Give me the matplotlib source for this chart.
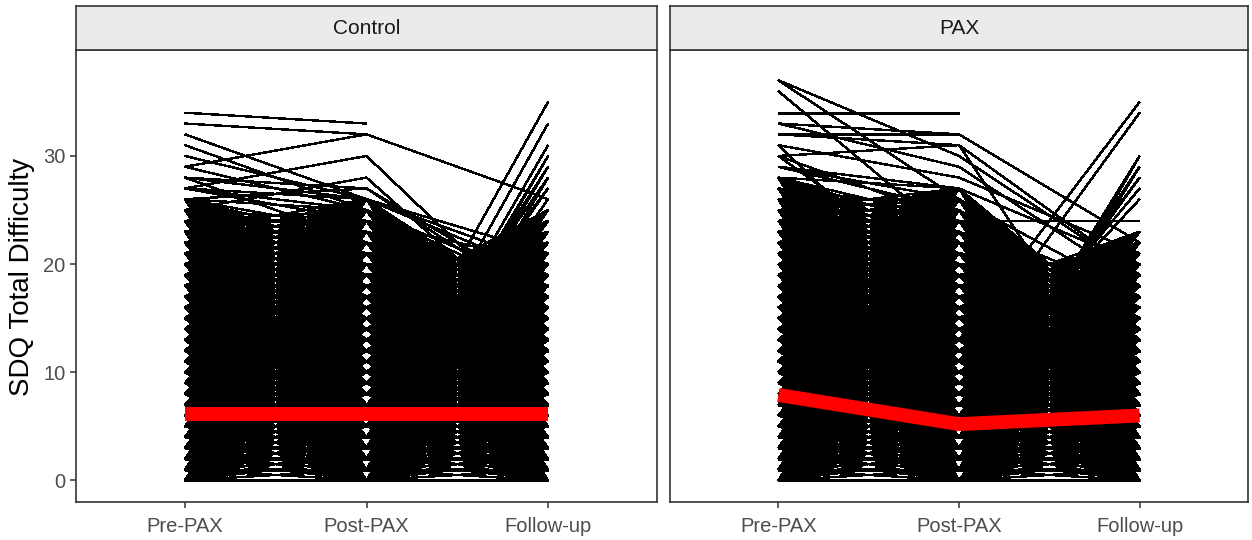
import numpy as np
import matplotlib
matplotlib.use("Agg")
import matplotlib.pyplot as plt
from matplotlib.collections import LineCollection

plt.rcParams['font.family'] = ['Liberation Sans', 'DejaVu Sans']

# ---------------- data ----------------
timepoints = ["Pre-PAX", "Post-PAX", "Follow-up"]
groups = ["Control", "PAX"]

# group mean trajectories (red lines)
mean_control = [6.1, 6.1, 6.1]
mean_pax = [7.9, 5.2, 6.0]

# dense core of individual trajectories: integer score levels observed at each time point
control_pre_levels = [0, 1, 2, 3, 4, 5, 6, 7, 8, 9, 10, 11, 12, 13, 14, 15, 16, 17, 18, 19, 20, 21, 22, 23, 24, 25, 26]
control_post_levels = [0, 1, 2, 3, 4, 5, 6, 7, 8, 9, 10, 11, 12, 13, 14, 15, 16, 17, 18, 19, 20, 21, 22, 23, 24, 25, 26]
control_follow_levels = [0, 1, 2, 3, 4, 5, 6, 7, 8, 9, 10, 11, 12, 13, 14, 15, 16, 17, 18, 19, 20, 21, 22, 23, 24, 25]
control_pre_post_max_sum = 49
control_post_follow_max_sum = 41

pax_pre_levels = [0, 1, 2, 3, 4, 5, 6, 7, 8, 9, 10, 11, 12, 13, 14, 15, 16, 17, 18, 19, 20, 21, 22, 23, 24, 25, 26, 27, 28]
pax_post_levels = [0, 1, 2, 3, 4, 5, 6, 7, 8, 9, 10, 11, 12, 13, 14, 15, 16, 17, 18, 19, 20, 21, 22, 23, 24, 25, 26, 27]
pax_follow_levels = [0, 1, 2, 3, 4, 5, 6, 7, 8, 9, 10, 11, 12, 13, 14, 15, 16, 17, 18, 19, 20, 21, 22, 23]
pax_pre_post_max_sum = 52
pax_post_follow_max_sum = 40

# readable individual trajectories outside the dense core (pre, post, follow-up)
control_pre = [34, 33, 32, 29, 30, 31, 27, 25, 28, 27, 26, 27, 28, 27, 29, 28, 26,
               12, 10, 15, 8, 14, 9, 11, 16, 7, 13, 18, 6]
control_post = [33, 32, 26, 32, 26, 25, 30, 28, 27, 25, 27, 24, 22, 26, 25, 26, 25,
                5, 3, 2, 1, 2, 1, 3, 4, 0, 3, 5, 2]
control_follow = [np.nan, 26, 20, np.nan, 19, 18, 14, 13, 16, 15, 17, 20, 18, 19, 17, 21, 16,
                  35, 33, 31, 30, 30, 29, 29, 28, 28, 27, 27, 26]

pax_pre = [37, 37, 36, 34, 33, 32, 32, 31, 30, 33, 30, 31, 29, 29, 30, 29, 28,
           14, 20, 18, 10, 12, 9, 15, 8, 16, 11, 13, 17, 19, 22]
pax_post = [30, 26, 22, 34, 32, 32, 31, 28, 31, 29, 18, 15, 27, 25, 24, 26, 27,
            13, 11, 11, 2, 3, 1, 4, 2, 3, 5, 6, 7, 8, 24]
pax_follow = [19, 17, 16, np.nan, 22, np.nan, 6, 21, 19, 18, 12, 10, 20, 15, 17, 14, 13,
              35, 34, 34, 30, 30, 30, 29, 29, 29, 28, 28, 27, 26, 24]

# ---------------- figure ----------------
W, H = 1252, 540
fig = plt.figure(figsize=(W / 100, H / 100), dpi=100)

def fx(px):
    return px / W

def fy(py):
    return 1 - py / H

panel_top, panel_bot = 50, 502
strip_top = 6
panels = [(76, 657), (670, 1248)]

core = {
    "Control": (control_pre_levels, control_post_levels, control_follow_levels,
                control_pre_post_max_sum, control_post_follow_max_sum),
    "PAX": (pax_pre_levels, pax_post_levels, pax_follow_levels,
            pax_pre_post_max_sum, pax_post_follow_max_sum),
}
indiv = {
    "Control": (control_pre, control_post, control_follow),
    "PAX": (pax_pre, pax_post, pax_follow),
}
means = {"Control": mean_control, "PAX": mean_pax}

xs = np.array([1, 2, 3])
edge = "#333333"

for i, (g, (l, r)) in enumerate(zip(groups, panels)):
    ax = fig.add_axes([fx(l), fy(panel_bot), fx(r - l), (panel_bot - panel_top) / H])
    pre_l, post_l, fol_l, maxsum1, maxsum2 = core[g]
    segs = []
    for a in pre_l:
        for b in post_l:
            if a + b <= maxsum1:
                segs.append([(1, a), (2, b)])
    for a in post_l:
        for b in fol_l:
            if a + b <= maxsum2:
                segs.append([(2, a), (3, b)])
    lc = LineCollection(segs, colors="black", linewidths=1.0, antialiaseds=False,
                        capstyle="butt")
    ax.add_collection(lc)

    p, q, f = indiv[g]
    for k in range(len(p)):
        ax.plot(xs, [p[k], q[k], f[k]], color="black", lw=1.0, antialiased=False,
                solid_capstyle="butt")

    ax.plot(xs, means[g], color="red", lw=10, solid_capstyle="butt",
            solid_joinstyle="round", zorder=5)

    ax.set_xlim(0.4, 3.6)
    ax.set_ylim(-2.0, 39.8)
    ax.set_xticks(xs)
    ax.set_xticklabels(timepoints)
    ax.set_yticks([0, 10, 20, 30])
    if i == 0:
        ax.set_yticklabels(["0", "10", "20", "30"])
    else:
        ax.set_yticklabels([])
    ax.tick_params(axis="both", colors=edge, labelcolor="#4D4D4D", labelsize=14.5,
                   length=4.5, width=1.1, direction="out")
    ax.tick_params(axis="x", pad=6)
    ax.tick_params(axis="y", pad=3)
    if i == 1:
        ax.tick_params(axis="y", length=0)
    for s in ax.spines.values():
        s.set_color(edge)
        s.set_linewidth(1.2)
    ax.set_facecolor("white")

    sax = fig.add_axes([fx(l), fy(panel_top), fx(r - l), (panel_top - strip_top) / H])
    sax.set_facecolor("#EBEBEB")
    sax.set_xticks([])
    sax.set_yticks([])
    for s in sax.spines.values():
        s.set_color(edge)
        s.set_linewidth(1.2)
    sax.text(0.5, 0.5, g, ha="center", va="center", fontsize=15, color="#1A1A1A",
             transform=sax.transAxes)

fig.text(fx(22), fy(277), "SDQ Total Difficulty", rotation=90, ha="center", va="center",
         fontsize=20, color="black")

fig.savefig("out.png", dpi=100, facecolor="white")
